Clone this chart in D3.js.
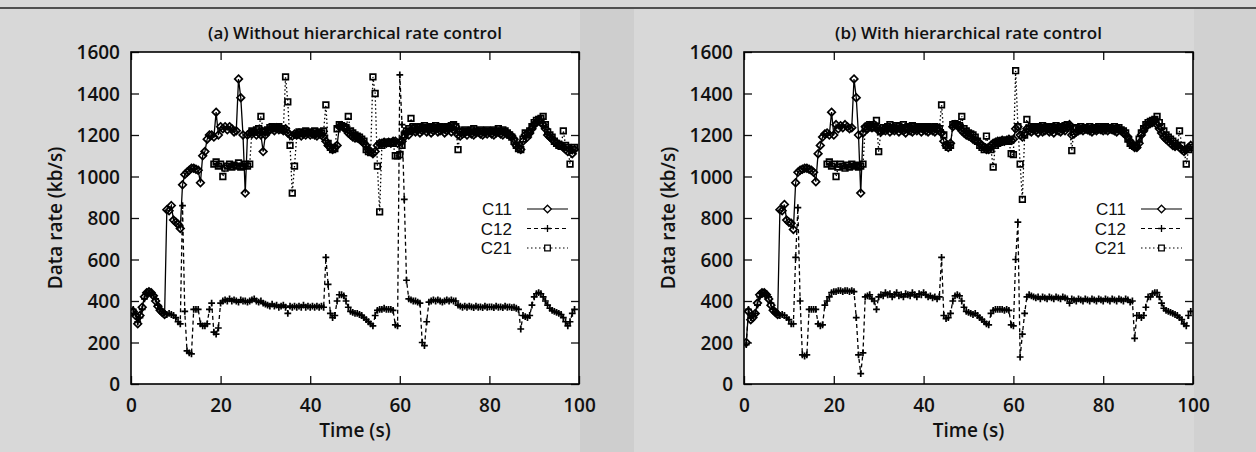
<!DOCTYPE html>
<html>
<head>
<meta charset="utf-8">
<script src="https://cdn.jsdelivr.net/npm/d3@7"></script>
<style>
  html, body { margin: 0; padding: 0; background: #d6d6d6; }
  svg { display: block; }
  text { font-family: "Open Sans", "Noto Sans", sans-serif; font-weight: 600; fill: #111; }
</style>
</head>
<body>
<svg id="chart" width="1256" height="452"></svg>
<script>
// ---------------- DATA ----------------
// samples every 0.5 s, from t = 0.5 s to t = 99.5 s (199 samples)
const sampleStep = 0.5;

const xTicks = [0, 20, 40, 60, 80, 100];
const yTicks = [0, 200, 400, 600, 800, 1000, 1200, 1400, 1600];
const seriesNames = ["C11", "C12", "C21"];
const panelTitles = ["(a) Without hierarchical rate control", "(b) With hierarchical rate control"];
const xLabel = "Time (s)";
const yLabel = "Data rate (kb/s)";

const N = null;

// (a) Without hierarchical rate control
const a_C11 = [
  350,330,290,330,370,420,440,445,440,425,400,375,355,345,335,840,835,860,790,780,
  770,750,960,1010,1020,1030,1040,1040,1035,1030,970,1100,1120,1180,1200,1200,1190,1310,1200,1240,
  1230,1240,1225,1240,1230,1215,1220,1470,1380,1200,920,1200,1210,1205,1215,1200,1210,1200,1120,1200,
  1215,1225,1230,1220,1235,1225,1230,1220,1230,1210,1200,1195,1205,1200,1210,1195,1205,1200,1210,1200,
  1205,1200,1195,1205,1200,1190,1170,1150,1140,1130,1140,1150,1240,1245,1235,1230,1210,1200,1190,1185,
  1185,1180,1170,1160,1150,1130,1120,1110,1120,1150,1160,1160,1165,1160,1165,1160,1170,1170,1160,1165,
  1170,1190,1210,1200,1220,1230,1215,1225,1210,1220,1230,1215,1225,1210,1220,1230,1215,1220,1225,1210,
  1220,1230,1215,1225,1240,1200,1195,1205,1210,1200,1215,1205,1200,1210,1215,1205,1200,1210,1205,1215,
  1205,1200,1210,1215,1205,1200,1210,1205,1200,1195,1180,1150,1140,1130,1170,1200,1190,1210,1230,1250,
  1260,1270,1260,1250,1230,1200,1190,1180,1170,1160,1155,1150,1140,1130,1120,1130,1110,1130,N
];
const a_C12 = [
  360,340,300,320,360,410,435,440,440,430,410,380,360,350,340,335,340,335,330,320,
  300,290,860,350,160,150,145,360,360,360,290,280,280,290,360,390,250,240,270,390,
  400,405,400,410,400,405,400,395,405,400,400,395,400,405,410,400,395,400,390,385,
  380,375,385,375,380,370,375,380,370,340,375,370,375,370,375,370,380,370,375,370,
  375,370,375,370,375,370,610,480,340,320,330,400,430,430,425,400,370,350,345,340,
  340,335,330,320,310,300,290,280,330,355,360,360,365,360,360,360,355,285,280,1490,
  1250,890,500,410,405,400,400,395,390,200,185,300,395,400,405,400,405,400,395,400,
  405,400,405,400,400,380,375,370,375,370,375,372,368,375,370,372,368,375,370,372,
  372,368,375,370,372,368,375,370,372,368,370,365,360,265,330,325,320,330,380,420,
  435,440,435,420,400,380,365,355,350,345,340,335,320,300,280,300,340,360,N
];
const a_C21 = [
  N,N,N,N,N,N,N,N,N,N,N,N,N,N,N,N,N,N,N,N,
  N,N,N,N,N,N,N,N,N,N,N,N,N,N,N,N,1060,1070,1050,1060,
  1000,1040,1050,1060,1045,1055,1050,1065,1045,1050,1060,1050,1060,1220,1215,1225,1230,1290,1220,1215,
  1225,1235,1240,1230,1235,1240,1230,1225,1480,1360,1150,920,1050,1200,1215,1205,1210,1220,1210,1215,
  1210,1220,1205,1215,1210,1220,1345,1160,1140,1130,1135,1230,1250,1245,1240,1235,1290,1220,1210,1200,
  1195,1190,1180,1170,1130,1120,1115,1480,1400,1050,830,1150,1160,1165,1160,1165,1160,1100,1100,1105,
  1150,1200,1220,1230,1280,1240,1225,1235,1240,1230,1245,1235,1230,1240,1235,1245,1230,1240,1235,1230,
  1240,1235,1245,1250,1240,1130,1220,1215,1225,1220,1215,1225,1230,1220,1215,1225,1220,1215,1225,1220,
  1215,1225,1220,1230,1215,1225,1220,1210,1200,1190,1170,1150,1135,1130,1180,1210,1200,1220,1240,1260,
  1270,1275,1280,1290,1250,1215,1200,1190,1170,1160,1150,1145,1220,1150,1140,1060,1130,1140,N
];

// (b) With hierarchical rate control
const b_C11 = [
  200,350,310,320,340,390,430,440,440,430,410,380,355,345,335,840,835,865,790,780,
  775,745,970,1020,1030,1035,1040,1040,1035,1030,1020,975,1110,1150,1190,1205,1210,1200,1310,1200,
  1250,1230,1245,1235,1250,1240,1230,1235,1470,1380,1200,920,1210,1240,1230,1245,1235,1250,1240,1220,
  1215,1225,1220,1230,1215,1225,1220,1230,1215,1225,1220,1210,1225,1220,1215,1225,1220,1230,1215,1225,
  1220,1215,1225,1220,1215,1225,1220,1210,1170,1150,1140,1160,1240,1250,1245,1240,1220,1210,1200,1195,
  1190,1180,1175,1170,1160,1150,1140,1130,1130,1150,1160,1165,1170,1170,1175,1170,1175,1180,1175,1180,
  1230,1240,1200,1190,1210,1230,1220,1215,1225,1220,1210,1225,1215,1220,1225,1215,1220,1210,1225,1220,
  1215,1225,1220,1235,1250,1200,1205,1215,1220,1225,1220,1230,1225,1220,1215,1225,1220,1230,1225,1220,
  1225,1220,1230,1225,1220,1215,1225,1220,1210,1200,1190,1170,1150,1140,1140,1160,1200,1220,1240,1250,
  1255,1260,1270,1250,1230,1210,1190,1180,1170,1160,1150,1145,1150,1140,1130,1120,1130,1140,1150
];
const b_C12 = [
  190,360,320,330,340,380,420,440,440,435,420,390,360,345,340,330,335,330,320,310,
  290,290,610,850,400,140,135,140,360,360,360,360,290,280,285,380,400,420,440,445,
  445,450,450,445,450,450,445,450,445,320,140,50,150,420,425,430,410,400,360,420,
  430,425,440,430,435,420,430,440,425,430,420,435,430,425,440,430,420,435,430,440,
  430,420,425,415,420,410,420,610,330,315,320,340,400,425,430,425,400,370,350,345,
  340,335,340,330,320,310,300,290,285,340,355,360,360,360,360,355,360,355,285,280,
  600,780,130,240,340,420,430,425,420,415,420,410,420,415,410,420,415,410,420,415,
  410,420,415,410,390,410,405,400,410,405,400,410,405,400,410,405,400,410,405,400,
  410,405,400,410,405,400,410,405,400,410,405,395,400,220,330,330,320,330,370,420,
  420,435,440,440,420,390,365,355,350,345,340,335,330,320,310,290,280,330,350
];
const b_C21 = [
  N,N,N,N,N,N,N,N,N,N,N,N,N,N,N,N,N,N,N,N,
  N,N,N,N,N,N,N,N,N,N,N,N,N,N,N,N,1060,1070,1050,1060,
  1000,1045,1060,1050,1040,1055,1045,1060,1050,1055,1045,1050,1060,1230,1240,1250,1235,1240,1270,1120,
  1220,1235,1230,1240,1250,1235,1230,1245,1240,1230,1250,1235,1240,1230,1245,1240,1235,1230,1240,1235,
  1230,1240,1235,1230,1240,1235,1230,1345,1200,1150,1140,1150,1250,1255,1250,1245,1290,1230,1220,1210,
  1205,1200,1190,1170,1150,1140,1130,1195,1140,1130,1045,1150,1160,1165,1170,1170,1175,1170,1110,1105,
  1510,1240,1060,890,1200,1275,1230,1240,1235,1230,1240,1235,1245,1230,1240,1235,1240,1230,1245,1235,
  1240,1235,1245,1250,1240,1125,1230,1235,1225,1240,1230,1235,1225,1240,1230,1235,1225,1240,1230,1235,
  1240,1230,1235,1225,1240,1230,1235,1225,1220,1210,1180,1160,1150,1145,1150,1180,1210,1230,1250,1260,
  1265,1270,1275,1290,1260,1240,1220,1200,1190,1180,1170,1160,1150,1220,1150,1130,1060,1130,1140
];

const panels = [
  { title: panelTitles[0], series: [a_C11, a_C12, a_C21], x0: 131, x1: 579, ylabX: 55 },
  { title: panelTitles[1], series: [b_C11, b_C12, b_C21], x0: 744, x1: 1193, ylabX: 668 }
];

// ---------------- DRAWING ----------------
const svg = d3.select("#chart");
const W = 1256, H = 452;
const yTop = 52, yBot = 384;

svg.append("rect").attr("x", 0).attr("y", 0).attr("width", W).attr("height", H).attr("fill", "#d8d8d8");
svg.append("rect").attr("x", 580).attr("y", 9).attr("width", 54).attr("height", H - 9).attr("fill", "#cecece");
svg.append("rect").attr("x", 1194).attr("y", 9).attr("width", 62).attr("height", H - 9).attr("fill", "#d1d1d1");
svg.append("line").attr("x1", 0).attr("x2", W).attr("y1", 8).attr("y2", 8)
  .attr("stroke", "#222").attr("stroke-width", 1.5);

const markerPaths = {
  C11: "M0,-3.8L3.8,0L0,3.8L-3.8,0Z",
  C12: "M-3.4,0H3.4M0,-3.4V3.4",
  C21: "M-2.8,-2.8H2.8V2.8H-2.8Z"
};
const dashes = { C11: null, C12: "4,3", C21: "1.5,2.5" };

panels.forEach(p => {
  const x = d3.scaleLinear().domain([0, 100]).range([p.x0, p.x1]);
  const y = d3.scaleLinear().domain([0, 1600]).range([yBot, yTop]);
  const g = svg.append("g");

  g.append("rect").attr("x", p.x0).attr("y", yTop).attr("width", p.x1 - p.x0).attr("height", yBot - yTop)
    .attr("fill", "#fff");

  const clipId = "clip" + p.x0;
  svg.append("clipPath").attr("id", clipId).append("rect")
    .attr("x", p.x0).attr("y", yTop).attr("width", p.x1 - p.x0).attr("height", yBot - yTop);

  // axes
  const left = g.append("g").attr("transform", `translate(${p.x0},0)`)
    .call(d3.axisLeft(y).tickValues(yTicks).tickFormat(d3.format("d"))
      .tickSize(-8).tickSizeOuter(0).tickPadding(11));
  const bottom = g.append("g").attr("transform", `translate(0,${yBot})`)
    .call(d3.axisBottom(x).tickValues(xTicks).tickFormat(d3.format("d")).tickSize(-8).tickSizeOuter(0));
  g.append("g").attr("transform", `translate(${p.x1},0)`)
    .call(d3.axisRight(y).tickValues(yTicks).tickSize(-8).tickSizeOuter(0).tickFormat(""));
  g.append("g").attr("transform", `translate(0,${yTop})`)
    .call(d3.axisTop(x).tickValues(xTicks).tickSize(-8).tickSizeOuter(0).tickFormat(""));
  g.selectAll(".domain").remove();
  g.selectAll(".tick line").attr("stroke", "#111").attr("stroke-width", 1.3);
  g.selectAll(".tick text").attr("font-family", null).attr("font-size", null)
    .style("font-size", "19px").attr("fill", "#111");
  left.selectAll(".tick text").attr("dy", "0.36em");
  bottom.selectAll(".tick text").attr("y", 21).attr("dy", "0.36em");

  // series
  const plot = g.append("g").attr("clip-path", `url(#${clipId})`);
  const order = [2, 1, 0];
  order.forEach(si => {
    const name = seriesNames[si];
    const pts = p.series[si].map((v, i) => ({ t: (i + 1) * sampleStep, v }));
    const line = d3.line().defined(d => d.v !== null).x(d => x(d.t)).y(d => y(d.v));
    plot.append("path").datum(pts).attr("d", line)
      .attr("fill", "none").attr("stroke", "#000").attr("stroke-width", 1.3)
      .attr("stroke-dasharray", dashes[name]);
    plot.selectAll(null).data(pts.filter(d => d.v !== null)).enter().append("path")
      .attr("d", markerPaths[name])
      .attr("transform", d => `translate(${x(d.t)},${y(d.v)})`)
      .attr("fill", "none").attr("stroke", "#000").attr("stroke-width", 1.7);
  });

  // frame
  g.append("rect").attr("x", p.x0).attr("y", yTop).attr("width", p.x1 - p.x0).attr("height", yBot - yTop)
    .attr("fill", "none").attr("stroke", "#000").attr("stroke-width", 1.6);

  // titles & labels
  const cx = (p.x0 + p.x1) / 2;
  g.append("text").attr("x", cx).attr("y", 33).attr("text-anchor", "middle").attr("dy", "0.35em")
    .style("font-size", "17px").text(p.title);
  g.append("text").attr("transform", `translate(${p.ylabX},${(yTop + yBot) / 2}) rotate(-90)`)
    .attr("text-anchor", "middle").attr("dy", "0.35em").style("font-size", "19px").text(yLabel);
  g.append("text").attr("x", cx).attr("y", 430).attr("text-anchor", "middle").attr("dy", "0.35em")
    .style("font-size", "19px").text(xLabel);

  // legend
  const legY = [209, 228.5, 248];
  seriesNames.forEach((name, i) => {
    g.append("text").attr("x", p.x1 - 67).attr("y", legY[i]).attr("text-anchor", "end").attr("dy", "0.36em")
      .style("font-family", "'Liberation Sans', Arial, sans-serif").style("font-weight", "400")
      .style("font-size", "17px").text(name);
    g.append("line").attr("x1", p.x1 - 52).attr("x2", p.x1 - 11).attr("y1", legY[i]).attr("y2", legY[i])
      .attr("stroke", "#000").attr("stroke-width", 1.2).attr("stroke-dasharray", dashes[name]);
    g.append("path").attr("d", markerPaths[name])
      .attr("transform", `translate(${p.x1 - 31.5},${legY[i]})`)
      .attr("fill", "#fff").attr("stroke", "#000").attr("stroke-width", 1.3);
  });
});
</script>
</body>
</html>
